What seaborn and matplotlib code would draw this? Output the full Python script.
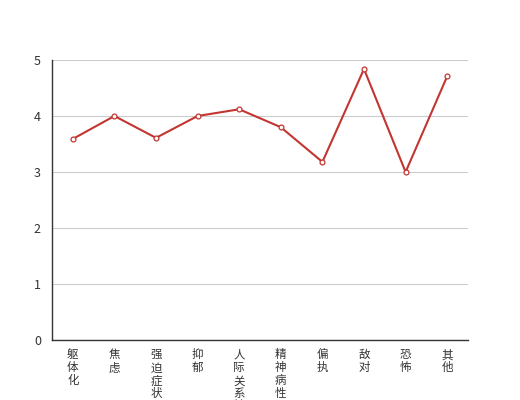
import matplotlib
matplotlib.use("Agg")
import matplotlib.pyplot as plt
import seaborn as sns
import pandas as pd
import numpy as np

categories = ["躯体化", "焦虑", "强迫症状", "抑郁", "人际关系敏感", "精神病性", "偏执", "敌对", "恐怖", "其他"]
values = [3.59, 4.0, 3.61, 4.0, 4.12, 3.80, 3.18, 4.84, 3.0, 4.71]
y_ticks = [0, 1, 2, 3, 4, 5]

sns.set_style("white")
plt.rcParams['font.family'] = ['Noto Sans CJK SC', 'DejaVu Sans']

df = pd.DataFrame({"cat": categories, "val": values})
fig = plt.figure(figsize=(5.2, 4.0), dpi=100)
ax = fig.add_axes([0.1, 0.15, 0.8, 0.7])
sns.lineplot(data=df, x="cat", y="val", ax=ax, color="#c23531", linewidth=1.5,
             marker="o", markersize=3.5, markerfacecolor="white",
             markeredgecolor="#c23531", markeredgewidth=0.9, sort=False)
ax.set_xlim(-0.5, len(categories) - 0.5)
ax.set_ylim(0, 5)
ax.set_yticks(y_ticks)
ax.set_yticklabels([str(t) for t in y_ticks], fontsize=9, color="#333333")
ax.yaxis.grid(True, color="#cccccc", linewidth=0.8)
ax.set_axisbelow(True)
ax.set_xticks(range(len(categories)))
ax.set_xticklabels(["\n".join(c) for c in categories], fontsize=8.3, color="#333333",
                   linespacing=1.0, va="top")
ax.set_xticks(np.arange(-0.5, len(categories)), minor=True)
ax.tick_params(axis="x", which="major", length=0, pad=6)
ax.tick_params(axis="x", which="minor", length=4, color="#333333", width=1)
ax.tick_params(axis="y", length=4, color="#333333", width=1, pad=4)
for s in ["top", "right"]:
    ax.spines[s].set_visible(False)
for s in ["left", "bottom"]:
    ax.spines[s].set_color("#333333")
    ax.spines[s].set_linewidth(1)
ax.set_xlabel("")
ax.set_ylabel("")
fig.savefig("out.png", dpi=100)
